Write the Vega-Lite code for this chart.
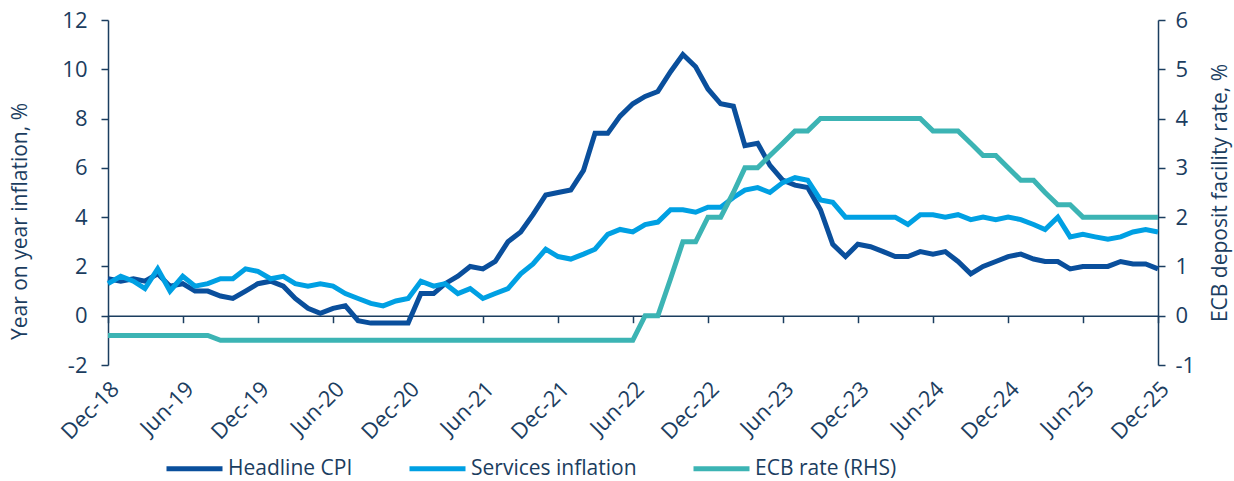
{
  "$schema": "https://vega.github.io/schema/vega-lite/v6.json",
  "width": 1050,
  "height": 345,
  "autosize": {"type": "none"},
  "padding": {"left": 108, "top": 20, "right": 76, "bottom": 116},
  "background": "white",
  "data": {"values": [
    {"month": "2018-12-01", "Headline CPI": 1.5, "Services inflation": 1.3, "ECB rate (RHS)": -0.4},
    {"month": "2019-01-01", "Headline CPI": 1.4, "Services inflation": 1.6, "ECB rate (RHS)": -0.4},
    {"month": "2019-02-01", "Headline CPI": 1.5, "Services inflation": 1.4, "ECB rate (RHS)": -0.4},
    {"month": "2019-03-01", "Headline CPI": 1.4, "Services inflation": 1.1, "ECB rate (RHS)": -0.4},
    {"month": "2019-04-01", "Headline CPI": 1.7, "Services inflation": 1.9, "ECB rate (RHS)": -0.4},
    {"month": "2019-05-01", "Headline CPI": 1.2, "Services inflation": 1.0, "ECB rate (RHS)": -0.4},
    {"month": "2019-06-01", "Headline CPI": 1.3, "Services inflation": 1.6, "ECB rate (RHS)": -0.4},
    {"month": "2019-07-01", "Headline CPI": 1.0, "Services inflation": 1.2, "ECB rate (RHS)": -0.4},
    {"month": "2019-08-01", "Headline CPI": 1.0, "Services inflation": 1.3, "ECB rate (RHS)": -0.4},
    {"month": "2019-09-01", "Headline CPI": 0.8, "Services inflation": 1.5, "ECB rate (RHS)": -0.5},
    {"month": "2019-10-01", "Headline CPI": 0.7, "Services inflation": 1.5, "ECB rate (RHS)": -0.5},
    {"month": "2019-11-01", "Headline CPI": 1.0, "Services inflation": 1.9, "ECB rate (RHS)": -0.5},
    {"month": "2019-12-01", "Headline CPI": 1.3, "Services inflation": 1.8, "ECB rate (RHS)": -0.5},
    {"month": "2020-01-01", "Headline CPI": 1.4, "Services inflation": 1.5, "ECB rate (RHS)": -0.5},
    {"month": "2020-02-01", "Headline CPI": 1.2, "Services inflation": 1.6, "ECB rate (RHS)": -0.5},
    {"month": "2020-03-01", "Headline CPI": 0.7, "Services inflation": 1.3, "ECB rate (RHS)": -0.5},
    {"month": "2020-04-01", "Headline CPI": 0.3, "Services inflation": 1.2, "ECB rate (RHS)": -0.5},
    {"month": "2020-05-01", "Headline CPI": 0.1, "Services inflation": 1.3, "ECB rate (RHS)": -0.5},
    {"month": "2020-06-01", "Headline CPI": 0.3, "Services inflation": 1.2, "ECB rate (RHS)": -0.5},
    {"month": "2020-07-01", "Headline CPI": 0.4, "Services inflation": 0.9, "ECB rate (RHS)": -0.5},
    {"month": "2020-08-01", "Headline CPI": -0.2, "Services inflation": 0.7, "ECB rate (RHS)": -0.5},
    {"month": "2020-09-01", "Headline CPI": -0.3, "Services inflation": 0.5, "ECB rate (RHS)": -0.5},
    {"month": "2020-10-01", "Headline CPI": -0.3, "Services inflation": 0.4, "ECB rate (RHS)": -0.5},
    {"month": "2020-11-01", "Headline CPI": -0.3, "Services inflation": 0.6, "ECB rate (RHS)": -0.5},
    {"month": "2020-12-01", "Headline CPI": -0.3, "Services inflation": 0.7, "ECB rate (RHS)": -0.5},
    {"month": "2021-01-01", "Headline CPI": 0.9, "Services inflation": 1.4, "ECB rate (RHS)": -0.5},
    {"month": "2021-02-01", "Headline CPI": 0.9, "Services inflation": 1.2, "ECB rate (RHS)": -0.5},
    {"month": "2021-03-01", "Headline CPI": 1.3, "Services inflation": 1.3, "ECB rate (RHS)": -0.5},
    {"month": "2021-04-01", "Headline CPI": 1.6, "Services inflation": 0.9, "ECB rate (RHS)": -0.5},
    {"month": "2021-05-01", "Headline CPI": 2.0, "Services inflation": 1.1, "ECB rate (RHS)": -0.5},
    {"month": "2021-06-01", "Headline CPI": 1.9, "Services inflation": 0.7, "ECB rate (RHS)": -0.5},
    {"month": "2021-07-01", "Headline CPI": 2.2, "Services inflation": 0.9, "ECB rate (RHS)": -0.5},
    {"month": "2021-08-01", "Headline CPI": 3.0, "Services inflation": 1.1, "ECB rate (RHS)": -0.5},
    {"month": "2021-09-01", "Headline CPI": 3.4, "Services inflation": 1.7, "ECB rate (RHS)": -0.5},
    {"month": "2021-10-01", "Headline CPI": 4.1, "Services inflation": 2.1, "ECB rate (RHS)": -0.5},
    {"month": "2021-11-01", "Headline CPI": 4.9, "Services inflation": 2.7, "ECB rate (RHS)": -0.5},
    {"month": "2021-12-01", "Headline CPI": 5.0, "Services inflation": 2.4, "ECB rate (RHS)": -0.5},
    {"month": "2022-01-01", "Headline CPI": 5.1, "Services inflation": 2.3, "ECB rate (RHS)": -0.5},
    {"month": "2022-02-01", "Headline CPI": 5.9, "Services inflation": 2.5, "ECB rate (RHS)": -0.5},
    {"month": "2022-03-01", "Headline CPI": 7.4, "Services inflation": 2.7, "ECB rate (RHS)": -0.5},
    {"month": "2022-04-01", "Headline CPI": 7.4, "Services inflation": 3.3, "ECB rate (RHS)": -0.5},
    {"month": "2022-05-01", "Headline CPI": 8.1, "Services inflation": 3.5, "ECB rate (RHS)": -0.5},
    {"month": "2022-06-01", "Headline CPI": 8.6, "Services inflation": 3.4, "ECB rate (RHS)": -0.5},
    {"month": "2022-07-01", "Headline CPI": 8.9, "Services inflation": 3.7, "ECB rate (RHS)": 0},
    {"month": "2022-08-01", "Headline CPI": 9.1, "Services inflation": 3.8, "ECB rate (RHS)": 0},
    {"month": "2022-09-01", "Headline CPI": 9.9, "Services inflation": 4.3, "ECB rate (RHS)": 0.75},
    {"month": "2022-10-01", "Headline CPI": 10.6, "Services inflation": 4.3, "ECB rate (RHS)": 1.5},
    {"month": "2022-11-01", "Headline CPI": 10.1, "Services inflation": 4.2, "ECB rate (RHS)": 1.5},
    {"month": "2022-12-01", "Headline CPI": 9.2, "Services inflation": 4.4, "ECB rate (RHS)": 2.0},
    {"month": "2023-01-01", "Headline CPI": 8.6, "Services inflation": 4.4, "ECB rate (RHS)": 2.0},
    {"month": "2023-02-01", "Headline CPI": 8.5, "Services inflation": 4.8, "ECB rate (RHS)": 2.5},
    {"month": "2023-03-01", "Headline CPI": 6.9, "Services inflation": 5.1, "ECB rate (RHS)": 3.0},
    {"month": "2023-04-01", "Headline CPI": 7.0, "Services inflation": 5.2, "ECB rate (RHS)": 3.0},
    {"month": "2023-05-01", "Headline CPI": 6.1, "Services inflation": 5.0, "ECB rate (RHS)": 3.25},
    {"month": "2023-06-01", "Headline CPI": 5.5, "Services inflation": 5.4, "ECB rate (RHS)": 3.5},
    {"month": "2023-07-01", "Headline CPI": 5.3, "Services inflation": 5.6, "ECB rate (RHS)": 3.75},
    {"month": "2023-08-01", "Headline CPI": 5.2, "Services inflation": 5.5, "ECB rate (RHS)": 3.75},
    {"month": "2023-09-01", "Headline CPI": 4.3, "Services inflation": 4.7, "ECB rate (RHS)": 4.0},
    {"month": "2023-10-01", "Headline CPI": 2.9, "Services inflation": 4.6, "ECB rate (RHS)": 4.0},
    {"month": "2023-11-01", "Headline CPI": 2.4, "Services inflation": 4.0, "ECB rate (RHS)": 4.0},
    {"month": "2023-12-01", "Headline CPI": 2.9, "Services inflation": 4.0, "ECB rate (RHS)": 4.0},
    {"month": "2024-01-01", "Headline CPI": 2.8, "Services inflation": 4.0, "ECB rate (RHS)": 4.0},
    {"month": "2024-02-01", "Headline CPI": 2.6, "Services inflation": 4.0, "ECB rate (RHS)": 4.0},
    {"month": "2024-03-01", "Headline CPI": 2.4, "Services inflation": 4.0, "ECB rate (RHS)": 4.0},
    {"month": "2024-04-01", "Headline CPI": 2.4, "Services inflation": 3.7, "ECB rate (RHS)": 4.0},
    {"month": "2024-05-01", "Headline CPI": 2.6, "Services inflation": 4.1, "ECB rate (RHS)": 4.0},
    {"month": "2024-06-01", "Headline CPI": 2.5, "Services inflation": 4.1, "ECB rate (RHS)": 3.75},
    {"month": "2024-07-01", "Headline CPI": 2.6, "Services inflation": 4.0, "ECB rate (RHS)": 3.75},
    {"month": "2024-08-01", "Headline CPI": 2.2, "Services inflation": 4.1, "ECB rate (RHS)": 3.75},
    {"month": "2024-09-01", "Headline CPI": 1.7, "Services inflation": 3.9, "ECB rate (RHS)": 3.5},
    {"month": "2024-10-01", "Headline CPI": 2.0, "Services inflation": 4.0, "ECB rate (RHS)": 3.25},
    {"month": "2024-11-01", "Headline CPI": 2.2, "Services inflation": 3.9, "ECB rate (RHS)": 3.25},
    {"month": "2024-12-01", "Headline CPI": 2.4, "Services inflation": 4.0, "ECB rate (RHS)": 3.0},
    {"month": "2025-01-01", "Headline CPI": 2.5, "Services inflation": 3.9, "ECB rate (RHS)": 2.75},
    {"month": "2025-02-01", "Headline CPI": 2.3, "Services inflation": 3.7, "ECB rate (RHS)": 2.75},
    {"month": "2025-03-01", "Headline CPI": 2.2, "Services inflation": 3.5, "ECB rate (RHS)": 2.5},
    {"month": "2025-04-01", "Headline CPI": 2.2, "Services inflation": 4.0, "ECB rate (RHS)": 2.25},
    {"month": "2025-05-01", "Headline CPI": 1.9, "Services inflation": 3.2, "ECB rate (RHS)": 2.25},
    {"month": "2025-06-01", "Headline CPI": 2.0, "Services inflation": 3.3, "ECB rate (RHS)": 2.0},
    {"month": "2025-07-01", "Headline CPI": 2.0, "Services inflation": 3.2, "ECB rate (RHS)": 2.0},
    {"month": "2025-08-01", "Headline CPI": 2.0, "Services inflation": 3.1, "ECB rate (RHS)": 2.0},
    {"month": "2025-09-01", "Headline CPI": 2.2, "Services inflation": 3.2, "ECB rate (RHS)": 2.0},
    {"month": "2025-10-01", "Headline CPI": 2.1, "Services inflation": 3.4, "ECB rate (RHS)": 2.0},
    {"month": "2025-11-01", "Headline CPI": 2.1, "Services inflation": 3.5, "ECB rate (RHS)": 2.0},
    {"month": "2025-12-01", "Headline CPI": 1.9, "Services inflation": 3.4, "ECB rate (RHS)": 2.0}
  ]},
  "config": {
    "view": {"stroke": null},
    "font": "Open Sans",
    "axis": {
      "labelFont": "Open Sans",
      "titleFont": "Open Sans",
      "labelColor": "#1b3d5f",
      "titleColor": "#1b3d5f",
      "domainColor": "#1b3d5f",
      "tickColor": "#1b3d5f",
      "labelFontSize": 22,
      "titleFontSize": 21,
      "titleFontWeight": "normal",
      "grid": false,
      "domainWidth": 1.5,
      "tickWidth": 1.5
    },
    "legend": {
      "orient": "none",
      "legendX": 56,
      "legendY": 418,
      "direction": "horizontal",
      "title": null,
      "labelFont": "Open Sans",
      "labelFontSize": 21,
      "labelColor": "#1b3d5f",
      "labelLimit": 400,
      "symbolType": "stroke",
      "symbolStrokeWidth": 5,
      "symbolSize": 3136,
      "labelOffset": 3,
      "columnPadding": 46
    }
  },
  "layer": [
    {
      "transform": [{"fold": ["Headline CPI", "Services inflation"], "as": ["series", "value"]}],
      "mark": {"type": "line", "strokeWidth": 5},
      "encoding": {
        "x": {
          "field": "month", "type": "temporal",
          "scale": {"type": "utc", "nice": false, "domain": [{"year": 2018, "month": 12, "date": 1, "utc": true}, {"year": 2025, "month": 12, "date": 1, "utc": true}]},
          "axis": {
            "orient": "bottom", "offset": -49.3, "labels": false, "title": null, "tickSize": 7,
            "values": [
              {"year": 2018, "month": 12, "date": 1, "utc": true}, {"year": 2019, "month": 6, "date": 1, "utc": true},
              {"year": 2019, "month": 12, "date": 1, "utc": true}, {"year": 2020, "month": 6, "date": 1, "utc": true},
              {"year": 2020, "month": 12, "date": 1, "utc": true}, {"year": 2021, "month": 6, "date": 1, "utc": true},
              {"year": 2021, "month": 12, "date": 1, "utc": true}, {"year": 2022, "month": 6, "date": 1, "utc": true},
              {"year": 2022, "month": 12, "date": 1, "utc": true}, {"year": 2023, "month": 6, "date": 1, "utc": true},
              {"year": 2023, "month": 12, "date": 1, "utc": true}, {"year": 2024, "month": 6, "date": 1, "utc": true},
              {"year": 2024, "month": 12, "date": 1, "utc": true}, {"year": 2025, "month": 6, "date": 1, "utc": true},
              {"year": 2025, "month": 12, "date": 1, "utc": true}
            ]
          }
        },
        "y": {
          "field": "value", "type": "quantitative",
          "scale": {"domain": [-2, 12], "nice": false},
          "axis": {"title": "Year on year inflation, %", "titleY": 201, "values": [-2, 0, 2, 4, 6, 8, 10, 12], "labelExpr": "'' + datum.value", "tickSize": 7, "labelPadding": 14, "titlePadding": 31}
        },
        "color": {
          "field": "series", "type": "nominal",
          "scale": {"domain": ["Headline CPI", "Services inflation", "ECB rate (RHS)"], "range": ["#0a4f9c", "#00a0e3", "#3cb4b4"]}
        }
      }
    },
    {
      "transform": [{"fold": ["ECB rate (RHS)"], "as": ["series", "value"]}],
      "mark": {"type": "line", "strokeWidth": 5},
      "encoding": {
        "x": {
          "field": "month", "type": "temporal",
          "axis": {
            "orient": "bottom", "domain": false, "ticks": false, "labelAngle": -45, "labelExpr": "utcFormat(datum.value, '%b-%y')", "title": null, "labelPadding": 13,
            "values": [
              {"year": 2018, "month": 12, "date": 1, "utc": true}, {"year": 2019, "month": 6, "date": 1, "utc": true},
              {"year": 2019, "month": 12, "date": 1, "utc": true}, {"year": 2020, "month": 6, "date": 1, "utc": true},
              {"year": 2020, "month": 12, "date": 1, "utc": true}, {"year": 2021, "month": 6, "date": 1, "utc": true},
              {"year": 2021, "month": 12, "date": 1, "utc": true}, {"year": 2022, "month": 6, "date": 1, "utc": true},
              {"year": 2022, "month": 12, "date": 1, "utc": true}, {"year": 2023, "month": 6, "date": 1, "utc": true},
              {"year": 2023, "month": 12, "date": 1, "utc": true}, {"year": 2024, "month": 6, "date": 1, "utc": true},
              {"year": 2024, "month": 12, "date": 1, "utc": true}, {"year": 2025, "month": 6, "date": 1, "utc": true},
              {"year": 2025, "month": 12, "date": 1, "utc": true}
            ]
          }
        },
        "y": {
          "field": "value", "type": "quantitative",
          "scale": {"domain": [-1, 6], "nice": false},
          "axis": {"orient": "right", "title": "ECB deposit facility rate, %", "titleAngle": 270, "values": [-1, 0, 1, 2, 3, 4, 5, 6], "labelExpr": "'' + datum.value", "tickSize": 7, "labelPadding": 10, "titlePadding": 36}
        },
        "color": {"field": "series", "type": "nominal"}
      }
    }
  ],
  "resolve": {"scale": {"y": "independent"}, "axis": {"x": "independent"}}
}
